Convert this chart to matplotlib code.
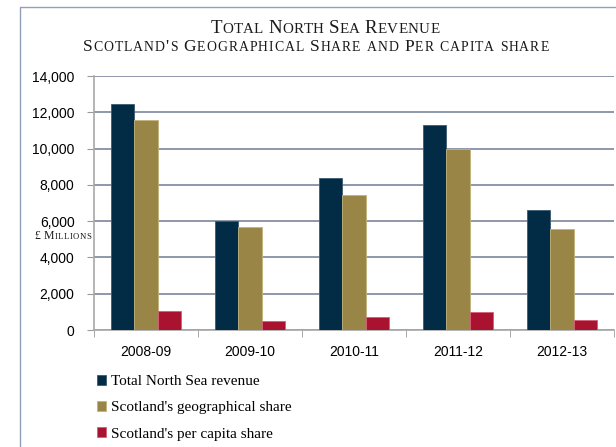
import matplotlib
matplotlib.use("Agg")
import matplotlib.pyplot as plt
from matplotlib.lines import Line2D
from matplotlib.ticker import FuncFormatter, MultipleLocator
import numpy as np

SERIF = "Liberation Serif"
SANS = "Liberation Sans"

# --- data (GBP millions) ---
years = ["2008-09", "2009-10", "2010-11", "2011-12", "2012-13"]
total_revenue = [12440, 6000, 8400, 11300, 6600]
geo_share = [11560, 5660, 7450, 10000, 5570]
per_capita_share = [1050, 480, 700, 980, 530]

series_labels = ["Total North Sea revenue",
                 "Scotland's geographical share",
                 "Scotland's per capita share"]
series_colors = ["#022b45", "#998545", "#aa132f"]
edge_colors = ["#3c5a70", "#c2b27c", "#d46078"]

W_PX, H_PX, DPI = 616, 447, 100


def smallcaps(fig, x_px, y_px, s, big, small, track=1.0, space=4.5, color="#1a1a1a"):
    """Fake small caps, one glyph at a time so the letters can be tracked out."""
    renderer = fig.canvas.get_renderer()
    items = []
    total = 0.0
    for ch in s:
        if ch == " ":
            items.append((None, space))
            total += space
            continue
        size = small if ch.islower() else big
        t = fig.text(0, 0, ch.upper(), fontsize=size, family=SERIF,
                     va="baseline", ha="left", color=color)
        w = t.get_window_extent(renderer).width + track
        items.append((t, w))
        total += w

    x = x_px - total / 2
    for t, w in items:
        if t is not None:
            t.set_position((x / W_PX, 1 - y_px / H_PX))
        x += w


fig = plt.figure(figsize=(W_PX / DPI, H_PX / DPI), dpi=DPI)
ax = fig.add_axes([94 / W_PX, 1 - 330 / H_PX, 520 / W_PX, 254 / H_PX])

x = np.arange(len(years))
width = 0.226
for i, (vals, c, ec, lab) in enumerate(zip([total_revenue, geo_share, per_capita_share],
                                           series_colors, edge_colors, series_labels)):
    ax.bar(x + (i - 1) * width, vals, width, color=c, edgecolor=ec,
           linewidth=0.6, label=lab, zorder=3)

ax.set_xlim(-0.5, len(years) - 0.5)
ax.set_ylim(0, 14000)
ax.yaxis.set_major_locator(MultipleLocator(2000))
ax.yaxis.set_major_formatter(FuncFormatter(lambda v, p: f"{int(v):,}"))
ax.grid(axis="y", color="#8e98aa", linewidth=1.4, zorder=0)

# category labels centred, tick marks on the category boundaries
ax.set_xticks(x)
ax.set_xticklabels(years)
ax.set_xticks(np.arange(-0.5, len(years)), minor=True)
ax.tick_params(axis="x", which="major", length=0, pad=11, labelsize=10)
ax.tick_params(axis="x", which="minor", length=5, color="#9a9a9a")
ax.tick_params(axis="y", length=5, color="#9a9a9a", pad=9, labelsize=10)
for lab in ax.get_xticklabels() + ax.get_yticklabels():
    lab.set_family(SANS)

for side in ["top", "right"]:
    ax.spines[side].set_visible(False)
ax.spines["left"].set_color("#a8a8a8")
ax.spines["bottom"].set_color("#a8a8a8")
ax.spines["left"].set_linewidth(1.2)
ax.spines["bottom"].set_linewidth(1.2)

# frame around the chart (right and bottom run off the page)
fig.add_artist(Line2D([20 / W_PX, 20 / W_PX, 1.0], [0.0, 1 - 7 / H_PX, 1 - 7 / H_PX],
                      transform=fig.transFigure, color="#92a0b6", linewidth=1.0))

smallcaps(fig, 325, 33, "Total North Sea Revenue", 13.6, 10.8, track=0.3, space=4.5)
smallcaps(fig, 316, 51, "Scotland's Geographical Share and Per capita share",
          12.5, 9.9, track=1.0, space=5)
smallcaps(fig, 63, 239, "£ Millions", 8.5, 6.2, track=0.6, space=2.5)

fig.legend(loc="upper left", bbox_to_anchor=(97 / W_PX, 1 - 375 / H_PX),
           frameon=False, borderpad=0, borderaxespad=0,
           handlelength=0.6, handleheight=0.6, handletextpad=0.3,
           labelspacing=0.85, prop={"family": SERIF, "size": 11})

fig.savefig("out.png", dpi=DPI)
